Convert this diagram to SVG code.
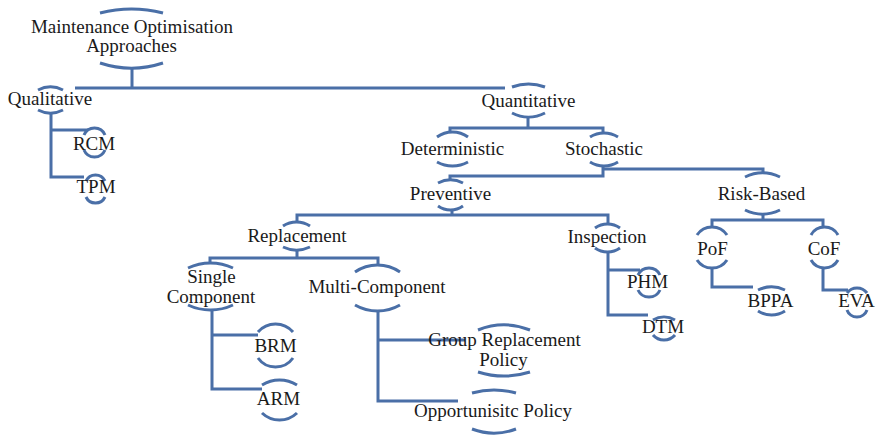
<svg xmlns="http://www.w3.org/2000/svg" width="877" height="435" viewBox="0 0 877 435">
<style>
.t{font-family:"Liberation Serif","Times New Roman",serif;font-size:19px;fill:#1a1a1a;text-anchor:middle}
.a{fill:none;stroke:#4a6fa7;stroke-width:3}
.c{fill:none;stroke:#4a6fa7;stroke-width:3;stroke-linejoin:miter;stroke-linecap:butt}
</style>
<rect width="877" height="435" fill="#ffffff"/>
<g id="connectors" class="c">
<path d="M132 68V88M75 88H505"/>
<path d="M51 113V178.5M51 130H88M49.5 177H84"/>
<path d="M528 117V128M448.5 128H604.5M450 128V133M603 128V133"/>
<path d="M603 166V176M448.5 176H604.5M450 176V181M603 169H763V174"/>
<path d="M452 210V215M295.5 215H609.5M297 215V222M608 215V225"/>
<path d="M297 250V258M208.5 258H379.5M210 258V263M378 258V265"/>
<path d="M212 310V390.5M212 335H258M210.5 389H262"/>
<path d="M378 311V402.5M378 340H465M376.5 401H458"/>
<path d="M608 252V316.5M608 270H640M606.5 315H648"/>
<path d="M763 214V220M710.5 220H824.5M712 220V227M823 220V227"/>
<path d="M712 268V287H753"/>
<path d="M823 268V290H848"/>
</g>
<g id="root">
<path class="a" d="M100 13A126 126 0 0 1 163 13M100 63A101.7 101.7 0 0 0 163 63"/>
<text class="t" x="132" y="33">Maintenance Optimisation</text>
<text class="t" x="131.5" y="52">Approaches</text>
</g>
<g id="qualitative">
<path class="a" d="M38 90A27.5 27.5 0 0 1 63 90M38 110A27.5 27.5 0 0 0 63 110"/>
<text class="t" x="50" y="105">Qualitative</text>
</g>
<g id="quantitative">
<path class="a" d="M512 87A46.9 46.9 0 0 1 545 87M512 113A36 36 0 0 0 545 113"/>
<text class="t" x="528.5" y="107">Quantitative</text>
</g>
<g id="rcm">
<path class="a" d="M84 135A11.4 11.4 0 0 1 105 135M84 150A11.4 11.4 0 0 0 105 150"/>
<text class="t" x="94" y="150">RCM</text>
</g>
<g id="tpm">
<path class="a" d="M86 181A10.5 10.5 0 0 1 105 181M86 197A10.5 10.5 0 0 0 105 197"/>
<text class="t" x="96" y="193">TPM</text>
</g>
<g id="deterministic">
<path class="a" d="M437 137A26.5 26.5 0 0 1 468 137M437 162A32 32 0 0 0 468 162"/>
<text class="t" x="452.5" y="155">Deterministic</text>
</g>
<g id="stochastic">
<path class="a" d="M590 137A26.5 26.5 0 0 1 618 137M590 162A26.5 26.5 0 0 0 618 162"/>
<text class="t" x="604" y="155">Stochastic</text>
</g>
<g id="preventive">
<path class="a" d="M438 183A27.5 27.5 0 0 1 463 183M438 206A21.5 21.5 0 0 0 463 206"/>
<text class="t" x="450.5" y="200">Preventive</text>
</g>
<g id="risk-based">
<path class="a" d="M745 177A40.3 40.3 0 0 1 780 177M745 210A40.3 40.3 0 0 0 780 210"/>
<text class="t" x="761.5" y="200">Risk-Based</text>
</g>
<g id="replacement">
<path class="a" d="M283 226A24.8 24.8 0 0 1 310 226M283 247A31.9 31.9 0 0 0 310 247"/>
<text class="t" x="297" y="242">Replacement</text>
</g>
<g id="inspection">
<path class="a" d="M595 228A21.5 21.5 0 0 1 620 228M595 248A21.5 21.5 0 0 0 620 248"/>
<text class="t" x="607" y="243">Inspection</text>
</g>
<g id="pof">
<path class="a" d="M697 235A18 18 0 0 1 727 235M697 260A18 18 0 0 0 727 260"/>
<text class="t" x="712.5" y="255">PoF</text>
</g>
<g id="cof">
<path class="a" d="M811 235A15.5 15.5 0 0 1 838 235M811 260A15.5 15.5 0 0 0 838 260"/>
<text class="t" x="824" y="255">CoF</text>
</g>
<g id="single-component">
<path class="a" d="M188 268A53 53 0 0 1 233 268M188 305A53 53 0 0 0 233 305"/>
<text class="t" x="211.5" y="283">Single</text>
<text class="t" x="211" y="303">Component</text>
</g>
<g id="multi-component">
<path class="a" d="M355 272A39.7 39.7 0 0 1 400 272M355 305A45.2 45.2 0 0 0 400 305"/>
<text class="t" x="377" y="293">Multi-Component</text>
</g>
<g id="phm">
<path class="a" d="M638 275A12.1 12.1 0 0 1 660 275M638 290A12.1 12.1 0 0 0 660 290"/>
<text class="t" x="647.5" y="288">PHM</text>
</g>
<g id="dtm">
<path class="a" d="M653 320A21.7 21.7 0 0 1 675 320M653 335A14.6 14.6 0 0 0 675 335"/>
<text class="t" x="663" y="333">DTM</text>
</g>
<g id="bppa">
<path class="a" d="M758 290A31.9 31.9 0 0 1 785 290M758 311A24.8 24.8 0 0 0 785 311"/>
<text class="t" x="770.5" y="307">BPPA</text>
</g>
<g id="eva">
<path class="a" d="M847 293A12.5 12.5 0 0 1 867 293M847 310A10.6 10.6 0 0 0 867 310"/>
<text class="t" x="856.5" y="307">EVA</text>
</g>
<g id="brm">
<path class="a" d="M258 332A23.1 23.1 0 0 1 293 332M258 358A21.5 21.5 0 0 0 293 358"/>
<text class="t" x="275.5" y="352">BRM</text>
</g>
<g id="arm">
<path class="a" d="M262 385A33.1 33.1 0 0 1 297 385M262 413A25.4 25.4 0 0 0 297 413"/>
<text class="t" x="278.5" y="405">ARM</text>
</g>
<g id="group-replacement">
<path class="a" d="M478 330A70.1 70.1 0 0 1 530 330M478 372A86.5 86.5 0 0 0 530 372"/>
<text class="t" x="504.5" y="346">Group Replacement</text>
<text class="t" x="503.5" y="366">Policy</text>
</g>
<g id="opportunistic">
<path class="a" d="M472 393A82.2 82.2 0 0 1 516 393M472 429A62.5 62.5 0 0 0 516 429"/>
<text class="t" x="493" y="417">Opportunisitc Policy</text>
</g>
</svg>
